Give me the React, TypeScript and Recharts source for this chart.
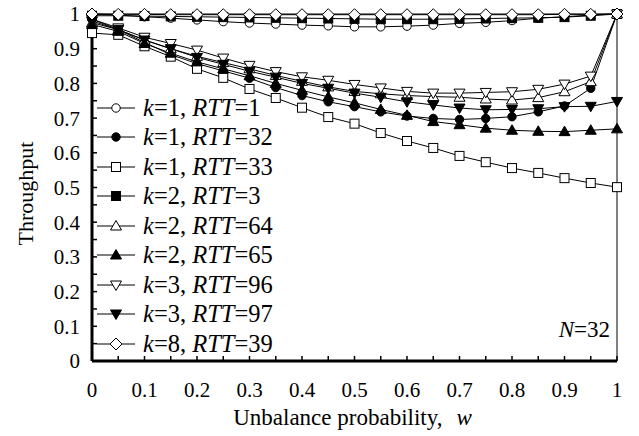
import React from 'react';
import { LineChart, Line, XAxis, YAxis, ReferenceLine, Legend, Label } from 'recharts';

const SERIF = '"Liberation Serif", "Times New Roman", Times, serif';

// Unbalance probability w (x categories)
const W = [0, 0.05, 0.1, 0.15, 0.2, 0.25, 0.3, 0.35, 0.4, 0.45, 0.5, 0.55, 0.6, 0.65, 0.7, 0.75, 0.8, 0.85, 0.9, 0.95, 1];

// Tick values
const X_TICKS = [0, 0.05, 0.1, 0.15, 0.2, 0.25, 0.3, 0.35, 0.4, 0.45, 0.5, 0.55, 0.6, 0.65, 0.7, 0.75, 0.8, 0.85, 0.9, 0.95, 1];
const Y_TICKS = [0, 0.05, 0.1, 0.15, 0.2, 0.25, 0.3, 0.35, 0.4, 0.45, 0.5, 0.55, 0.6, 0.65, 0.7, 0.75, 0.8, 0.85, 0.9, 0.95, 1];

// Throughput series
const K1_RTT1 = [1.0, 0.997, 0.992, 0.988, 0.983, 0.978, 0.974, 0.971, 0.968, 0.966, 0.963, 0.963, 0.965, 0.968, 0.973, 0.976, 0.981, 0.988, 0.992, 0.997, 1.0];
const K1_RTT32 = [0.985, 0.955, 0.918, 0.883, 0.857, 0.836, 0.815, 0.788, 0.765, 0.747, 0.733, 0.718, 0.706, 0.699, 0.696, 0.699, 0.704, 0.718, 0.735, 0.786, 1.0];
const K1_RTT33 = [0.945, 0.94, 0.907, 0.877, 0.842, 0.816, 0.784, 0.758, 0.73, 0.703, 0.684, 0.657, 0.634, 0.614, 0.591, 0.573, 0.556, 0.542, 0.527, 0.513, 0.501];
const K2_RTT3 = [0.995, 0.995, 0.994, 0.993, 0.992, 0.991, 0.99, 0.989, 0.988, 0.987, 0.986, 0.985, 0.985, 0.985, 0.986, 0.987, 0.988, 0.989, 0.991, 0.995, 1.0];
const K2_RTT64 = [0.975, 0.955, 0.925, 0.9, 0.878, 0.86, 0.842, 0.823, 0.806, 0.79, 0.777, 0.77, 0.765, 0.762, 0.76, 0.755, 0.752, 0.759, 0.776, 0.805, 1.0];
const K2_RTT65 = [0.97, 0.95, 0.915, 0.887, 0.862, 0.842, 0.822, 0.8, 0.78, 0.761, 0.744, 0.725, 0.708, 0.69, 0.681, 0.671, 0.665, 0.662, 0.661, 0.665, 0.669];
const K3_RTT96 = [0.985, 0.96, 0.933, 0.915, 0.896, 0.873, 0.852, 0.834, 0.819, 0.809, 0.797, 0.787, 0.777, 0.772, 0.772, 0.774, 0.776, 0.783, 0.798, 0.821, 1.0];
const K3_RTT97 = [0.98, 0.955, 0.925, 0.9, 0.875, 0.855, 0.835, 0.818, 0.8, 0.786, 0.772, 0.76, 0.747, 0.738, 0.729, 0.724, 0.725, 0.727, 0.733, 0.734, 0.748];
const K8_RTT39 = [1.0, 0.999, 0.999, 0.998, 0.998, 0.998, 0.998, 0.998, 0.998, 0.998, 0.998, 0.998, 0.998, 0.998, 0.998, 0.998, 0.998, 0.998, 0.999, 0.999, 1.0];

type Shape = 'circle' | 'square' | 'triUp' | 'triDown' | 'diamond';

const SERIES: { key: string; k: string; rtt: string; values: number[]; shape: Shape; filled: boolean }[] = [
  { key: 'k1rtt1', k: '1', rtt: '1', values: K1_RTT1, shape: 'circle', filled: false },
  { key: 'k1rtt32', k: '1', rtt: '32', values: K1_RTT32, shape: 'circle', filled: true },
  { key: 'k1rtt33', k: '1', rtt: '33', values: K1_RTT33, shape: 'square', filled: false },
  { key: 'k2rtt3', k: '2', rtt: '3', values: K2_RTT3, shape: 'square', filled: true },
  { key: 'k2rtt64', k: '2', rtt: '64', values: K2_RTT64, shape: 'triUp', filled: false },
  { key: 'k2rtt65', k: '2', rtt: '65', values: K2_RTT65, shape: 'triUp', filled: true },
  { key: 'k3rtt96', k: '3', rtt: '96', values: K3_RTT96, shape: 'triDown', filled: false },
  { key: 'k3rtt97', k: '3', rtt: '97', values: K3_RTT97, shape: 'triDown', filled: true },
  { key: 'k8rtt39', k: '8', rtt: '39', values: K8_RTT39, shape: 'diamond', filled: false },
];

const data = W.map((w, i) => {
  const row: Record<string, number> = { w };
  SERIES.forEach((s) => {
    row[s.key] = s.values[i];
  });
  return row;
});

function Marker({ cx, cy, shape, filled }: { cx: number; cy: number; shape: Shape; filled: boolean }) {
  if (cx == null || cy == null || isNaN(cx) || isNaN(cy)) return null;
  const common = { fill: filled ? '#000' : '#fff', stroke: '#000', strokeWidth: 1 };
  switch (shape) {
    case 'circle':
      return <circle cx={cx} cy={cy} r={4.2} {...common} />;
    case 'square':
      return <rect x={cx - 4.5} y={cy - 4.5} width={9} height={9} {...common} />;
    case 'triUp':
      return <polygon points={`${cx},${cy - 5.5} ${cx + 5.5},${cy + 4} ${cx - 5.5},${cy + 4}`} {...common} />;
    case 'triDown':
      return <polygon points={`${cx},${cy + 5.5} ${cx + 5.5},${cy - 4} ${cx - 5.5},${cy - 4}`} {...common} />;
    case 'diamond':
      return <polygon points={`${cx},${cy - 6} ${cx + 6},${cy} ${cx},${cy + 6} ${cx - 6},${cy}`} {...common} />;
  }
  return null;
}

const fmt = (v: number) => {
  const r = Math.round(v * 100);
  return r % 10 === 0 ? String(r / 100) : '';
};

const renderLegend = () => (
  <div style={{ fontFamily: SERIF, fontSize: 24.5, color: '#000' }}>
    {SERIES.map((s) => (
      <div key={s.key} style={{ display: 'flex', alignItems: 'center', height: 29.5, whiteSpace: 'nowrap' }}>
        <svg width={38} height={20} style={{ display: 'block' }}>
          <line x1={0} y1={10} x2={38} y2={10} stroke="#000" strokeWidth={1} />
          <Marker cx={19} cy={10} shape={s.shape} filled={s.filled} />
        </svg>
        <span style={{ marginLeft: 8 }}>
          <i>k</i>={s.k}, <i>RTT</i>={s.rtt}
        </span>
      </div>
    ))}
  </div>
);

const tickStyle = { fill: '#000', fontSize: 21, fontFamily: SERIF };

export default function App() {
  return (
    <div style={{ position: 'absolute', left: 0, top: 0, width: 639, height: 436, background: '#fff' }}>
      <LineChart width={639} height={436} data={data} margin={{ top: 14, right: 22, left: 0, bottom: 0 }}>
        <XAxis
          dataKey="w"
          type="number"
          domain={[0, 1]}
          ticks={X_TICKS}
          interval={0}
          tickFormatter={fmt}
          tickSize={-5}
          tickMargin={26}
          height={75}
          axisLine={{ stroke: '#000', strokeWidth: 3 }}
          tickLine={{ stroke: '#000', strokeWidth: 1.5 }}
          tick={tickStyle}
        >
          <Label
            content={(props: any) => {
              const vb = props.viewBox || { x: 92, y: 361, width: 525, height: 75 };
              const cx = vb.x + vb.width / 2 - 2;
              return (
                <g>
                  <text x={cx} y={vb.y + 64} textAnchor="middle" fontFamily={SERIF} fontSize={23} fill="#000">
                    Unbalance probability,
                    <tspan dx={14} fontStyle="italic">w</tspan>
                  </text>
                  <text x={vb.x + vb.width - 7} y={vb.y - 24} textAnchor="end" fontFamily={SERIF} fontSize={23} fill="#000">
                    <tspan fontStyle="italic">N</tspan>=32
                  </text>
                </g>
              );
            }}
          />
        </XAxis>
        <YAxis
          type="number"
          domain={[0, 1]}
          ticks={Y_TICKS}
          interval={0}
          tickFormatter={fmt}
          tickSize={-5}
          tickMargin={17}
          width={92}
          axisLine={{ stroke: '#000', strokeWidth: 3 }}
          tickLine={{ stroke: '#000', strokeWidth: 1.5 }}
          tick={tickStyle}
        >
          <Label
            content={(props: any) => {
              const vb = props.viewBox || { x: 0, y: 14, width: 92, height: 347 };
              const x = vb.x + 25;
              const y = vb.y + vb.height / 2 + 6;
              return (
                <text
                  x={x}
                  y={y}
                  transform={`rotate(-90 ${x} ${y})`}
                  textAnchor="middle"
                  dominantBaseline="central"
                  fontFamily={SERIF}
                  fontSize={22}
                  fill="#000"
                >
                  Throughput
                </text>
              );
            }}
          />
        </YAxis>
        <ReferenceLine x={1} stroke="#000" strokeWidth={1} />
        <ReferenceLine y={1} stroke="#000" strokeWidth={1} />
        {SERIES.map((s) => (
          <Line
            key={s.key}
            dataKey={s.key}
            name={s.key}
            stroke="#000"
            strokeWidth={1}
            isAnimationActive={false}
            activeDot={false}
            dot={(p: any) => (
              <Marker key={`${s.key}-${p.index}`} cx={p.cx} cy={p.cy} shape={s.shape} filled={s.filled} />
            )}
          />
        ))}
        <Legend
          layout="horizontal"
          verticalAlign="middle"
          align="center"
          content={renderLegend}
          wrapperStyle={{ left: 97, top: 93, width: 'auto', height: 'auto' }}
        />
      </LineChart>
    </div>
  );
}
